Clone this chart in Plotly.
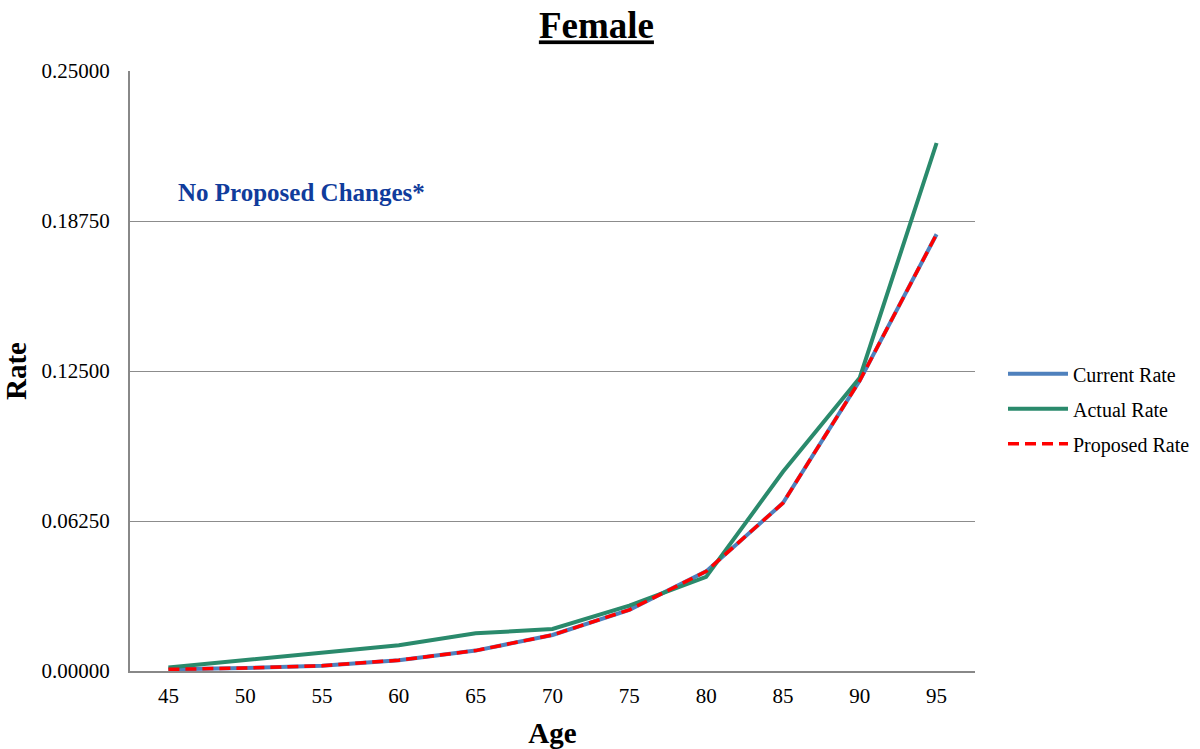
import plotly.graph_objects as go

ages = [45, 50, 55, 60, 65, 70, 75, 80, 85, 90, 95]
current_rate = [0.0007, 0.0012, 0.0022, 0.0045, 0.0085, 0.0150, 0.0255, 0.0415, 0.0700, 0.1210, 0.1820]
actual_rate = [0.0015, 0.0047, 0.0078, 0.0107, 0.0157, 0.0175, 0.0272, 0.0392, 0.0830, 0.1222, 0.2200]
proposed_rate = [0.0007, 0.0012, 0.0022, 0.0045, 0.0085, 0.0150, 0.0255, 0.0415, 0.0700, 0.1210, 0.1820]
y_ticks = [0.0, 0.0625, 0.125, 0.1875, 0.25]

FONT = "Liberation Serif, Times New Roman, serif"
PLOT_LEFT, PLOT_RIGHT = 130, 975

fig = go.Figure()
fig.add_trace(go.Scatter(x=ages, y=current_rate, mode="lines", name="Current Rate",
                         legendgroup="c", line=dict(color="#4f81bd", width=4)))
fig.add_trace(go.Scatter(x=ages, y=actual_rate, mode="lines", name="Actual Rate",
                         legendgroup="a", line=dict(color="#2a8a6c", width=4)))
fig.add_trace(go.Scatter(x=ages, y=proposed_rate, mode="lines", name="Proposed Rate",
                         legendgroup="p",
                         line=dict(color="#ff0000", width=3.5, dash="11px,6px")))

plot_w = PLOT_RIGHT - PLOT_LEFT

fig.update_layout(
    width=1200, height=749,
    margin=dict(l=PLOT_LEFT, r=1200 - PLOT_RIGHT, t=71, b=78, autoexpand=False),
    paper_bgcolor="white", plot_bgcolor="white",
    font=dict(family=FONT, size=21, color="black"),
    title=dict(text="<b><u>Female</u></b>", x=0.497, xanchor="center",
               y=0.966, yanchor="middle", font=dict(size=37, family=FONT)),
    legend=dict(x=(1003 - PLOT_LEFT) / plot_w, y=0.437, xanchor="left", yanchor="middle",
                font=dict(size=20, family=FONT), tracegroupgap=6,
                itemwidth=60),
    xaxis=dict(range=[42.5, 97.5], tickmode="array", tickvals=ages,
               ticktext=[str(a) for a in ages], showgrid=False,
               showline=True, linecolor="#888888", linewidth=2,
               ticks="", zeroline=False, tickfont=dict(size=21),
               ticklabelstandoff=5,
               title=dict(text="<b>Age</b>", font=dict(size=29), standoff=15)),
    yaxis=dict(range=[0, 0.25], tickmode="array", tickvals=y_ticks,
               tickformat=".5f", showgrid=True, gridcolor="#8c8c8c", gridwidth=1,
               showline=True, linecolor="#888888", linewidth=2,
               ticks="", zeroline=False, tickfont=dict(size=21),
               ticklabelstandoff=14,
               title=dict(text="<b>Rate</b>", font=dict(size=29), standoff=6)),
    annotations=[dict(text="<b>No Proposed Changes*</b>",
                      x=(176 - PLOT_LEFT) / plot_w, y=0.1995,
                      xref="paper", yref="y", xanchor="left", yanchor="middle",
                      showarrow=False, font=dict(size=25, color="#103c9c", family=FONT))],
)

fig.write_html("out.html")
